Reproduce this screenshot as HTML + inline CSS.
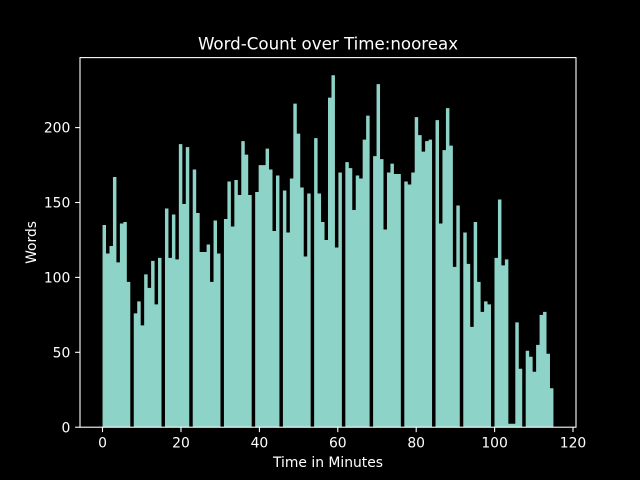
<!DOCTYPE html>
<html>
<head>
<meta charset="utf-8">
<style>
html,body{margin:0;padding:0;background:#000;}
svg{display:block;}
text{font-family:"DejaVu Sans","Liberation Sans",sans-serif;fill:#fff;}
</style>
</head>
<body>
<svg width="640" height="480" viewBox="0 0 640 480" xmlns="http://www.w3.org/2000/svg">
<rect x="0" y="0" width="640" height="480" fill="#000"/>
<g transform="translate(102.545,427.2) scale(3.4685,-1.4979)">
<path fill="#8dd3c7" d="M0 0V135H1V116H2V121H3V167H4V110H5V136H6V137H7V97H8V0Z
M9 0V76H10V84H11V68H12V102H13V93H14V111H15V82H16V113H17V0Z
M18 0V146H19V113H20V142H21V112H22V189H23V149H24V187H25V0Z
M26 0V172H27V143H28V117H29V117H30V122H31V97H32V138H33V116H34V0Z
M35 0V139H36V164H37V134H38V165H39V155H40V191H41V182H42V155H43V0Z
M44 0V157H45V175H46V175H47V186H48V172H49V131H50V168H51V0Z
M52 0V158H53V130H54V166H55V216H56V196H57V160H58V114H59V156H60V0Z
M61 0V193H62V156H63V137H64V125H65V220H66V235H67V120H68V170H69V0Z
M70 0V177H71V173H72V145H73V168H74V166H75V192H76V208H77V0Z
M78 0V181H79V229H80V179H81V132H82V170H83V176H84V169H85V169H86V0Z
M87 0V164H88V162H89V170H90V207H91V195H92V184H93V191H94V192H95V0Z
M96 0V205H97V136H98V185H99V213H100V188H101V107H102V148H103V0Z
M104 0V130H105V109H106V67H107V137H108V97H109V77H110V84H111V82H112V0Z
M113 0V113H114V152H115V108H116V112H117V2.3H118V2.3H119V70H120V39H121V0Z
M122 0V51H123V47H124V37H125V55H126V75H127V77H128V49H129V26H130V0Z"/>
</g>
<rect x="80" y="57.6" width="496" height="369.6" fill="none" stroke="#fff" stroke-width="1.1"/>
<g stroke="#fff" stroke-width="1.1">
<line x1="102.5" y1="427.2" x2="102.5" y2="432.1"/>
<line x1="181.0" y1="427.2" x2="181.0" y2="432.1"/>
<line x1="259.4" y1="427.2" x2="259.4" y2="432.1"/>
<line x1="337.8" y1="427.2" x2="337.8" y2="432.1"/>
<line x1="416.2" y1="427.2" x2="416.2" y2="432.1"/>
<line x1="494.6" y1="427.2" x2="494.6" y2="432.1"/>
<line x1="573.0" y1="427.2" x2="573.0" y2="432.1"/>
<line x1="75.1" y1="427.2" x2="80" y2="427.2"/>
<line x1="75.1" y1="352.3" x2="80" y2="352.3"/>
<line x1="75.1" y1="277.4" x2="80" y2="277.4"/>
<line x1="75.1" y1="202.5" x2="80" y2="202.5"/>
<line x1="75.1" y1="127.6" x2="80" y2="127.6"/>
</g>
<g font-size="13.89" text-anchor="middle">
<text x="102.5" y="447.3">0</text>
<text x="181.0" y="447.3">20</text>
<text x="259.4" y="447.3">40</text>
<text x="337.8" y="447.3">60</text>
<text x="416.2" y="447.3">80</text>
<text x="494.6" y="447.3">100</text>
<text x="573.0" y="447.3">120</text>
</g>
<g font-size="13.89" text-anchor="end">
<text x="70.3" y="432.3">0</text>
<text x="70.3" y="357.4">50</text>
<text x="70.3" y="282.5">100</text>
<text x="70.3" y="207.6">150</text>
<text x="70.3" y="132.7">200</text>
</g>
<text x="328" y="467" font-size="13.89" text-anchor="middle">Time in Minutes</text>
<text transform="translate(35.8,242.4) rotate(-90)" font-size="13.89" text-anchor="middle">Words</text>
<text x="328" y="49.5" font-size="16.67" text-anchor="middle">Word-Count over Time:nooreax</text>
</svg>
</body>
</html>
